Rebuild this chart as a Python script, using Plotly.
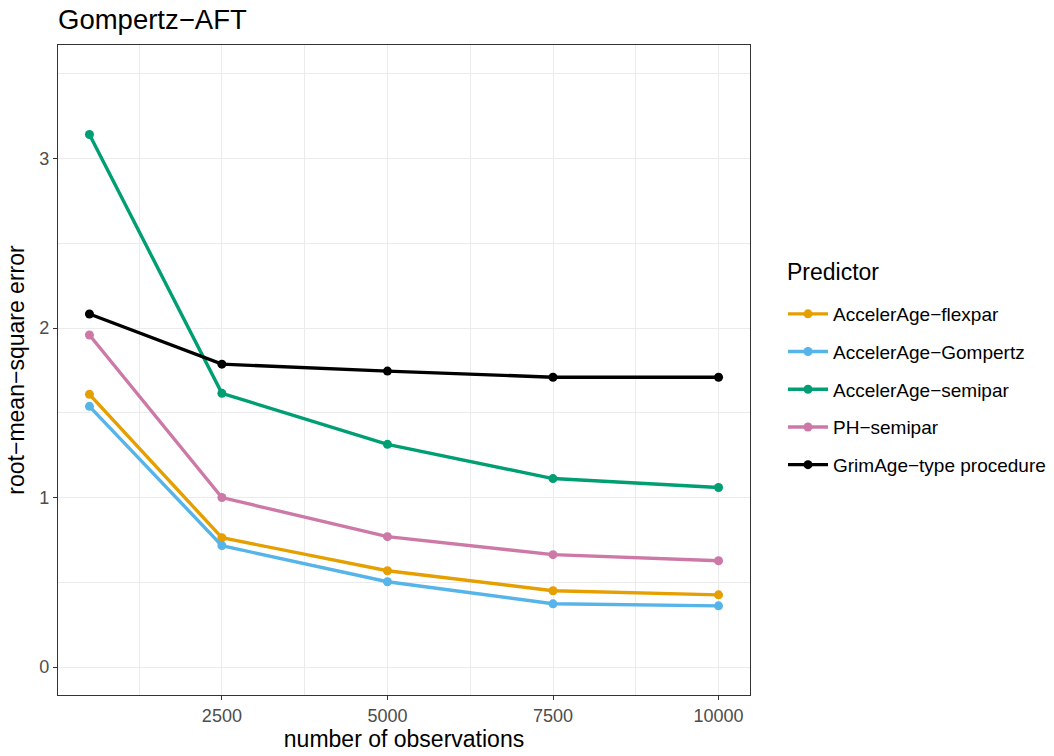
import plotly.graph_objects as go

n_obs = [500, 2500, 5000, 7500, 10000]
predictors = ["AccelerAge−flexpar", "AccelerAge−Gompertz", "AccelerAge−semipar",
              "PH−semipar", "GrimAge−type procedure"]
rmse_flexpar = [1.609, 0.763, 0.568, 0.450, 0.426]
rmse_gompertz = [1.538, 0.716, 0.503, 0.373, 0.361]
rmse_semipar = [3.142, 1.615, 1.314, 1.112, 1.059]
rmse_ph = [1.959, 1.000, 0.769, 0.663, 0.627]
rmse_grimage = [2.083, 1.787, 1.746, 1.710, 1.710]
colors = ["#E69F00", "#56B4E9", "#009E73", "#CC79A7", "#000000"]
series = [rmse_flexpar, rmse_gompertz, rmse_semipar, rmse_ph, rmse_grimage]

FONT = "Liberation Sans, Arial, sans-serif"
W, H = 1054, 756
L, R, T, B = 58, 304, 45, 61
PW, PH = W - L - R, H - T - B

fig = go.Figure()
for name, vals, col in zip(predictors, series, colors):
    fig.add_trace(go.Scatter(
        x=n_obs, y=vals, name=name, mode="lines+markers",
        line=dict(color=col, width=3.4),
        marker=dict(color=col, size=9),
        legendgroup=name,
    ))

fig.update_layout(
    width=W, height=H,
    paper_bgcolor="white", plot_bgcolor="white",
    margin=dict(l=L, r=R, t=T, b=B, autoexpand=False),
    font=dict(family=FONT, color="#000000"),
    title=dict(text="Gompertz−AFT", x=L/W, xref="container", xanchor="left",
               y=1 - 19/H, yref="container", yanchor="middle",
               font=dict(size=27.5, color="#000000")),
    showlegend=True,
    legend=dict(
        font=dict(size=19),
        x=(783 - L)/PW, xanchor="left", y=(H - B - 295)/PH, yanchor="top",
        tracegroupgap=10, traceorder="grouped",
        itemwidth=40, bgcolor="rgba(0,0,0,0)",
    ),
    annotations=[dict(
        text="Predictor", xref="paper", yref="paper",
        x=(785 - L)/PW, xanchor="left", y=(H - B - 272)/PH, yanchor="middle",
        showarrow=False, font=dict(size=23, color="#000000"),
    )],
)

fig.update_xaxes(
    range=[25, 10475], tickvals=[2500, 5000, 7500, 10000],
    ticktext=["2500", "5000", "7500", "10000"],
    showgrid=True, gridcolor="#EBEBEB", gridwidth=1.1,
    minor=dict(tickvals=[1250, 3750, 6250, 8750], showgrid=True,
               gridcolor="#EBEBEB", gridwidth=0.55, ticklen=0),
    ticks="outside", ticklen=4, tickcolor="#333333", tickwidth=1.1,
    tickfont=dict(size=18, color="#4D4D4D"),
    showline=True, linecolor="#333333", linewidth=1.3, mirror=True,
    zeroline=False, automargin=False,
    title=dict(text="number of observations", font=dict(size=23), standoff=4),
)
fig.update_yaxes(
    range=[-0.165, 3.67], tickvals=[0, 1, 2, 3],
    showgrid=True, gridcolor="#EBEBEB", gridwidth=1.1,
    minor=dict(tickvals=[0.5, 1.5, 2.5, 3.5], showgrid=True,
               gridcolor="#EBEBEB", gridwidth=0.55, ticklen=0),
    ticks="outside", ticklen=4, tickcolor="#333333", tickwidth=1.1,
    tickfont=dict(size=18, color="#4D4D4D"),
    showline=True, linecolor="#333333", linewidth=1.3, mirror=True,
    zeroline=False, automargin=False,
    title=dict(text="root−mean−square error", font=dict(size=23), standoff=8),
)

fig.write_html("out.html", config={"displayModeBar": False},
               post_script="document.body.style.margin='0';")
